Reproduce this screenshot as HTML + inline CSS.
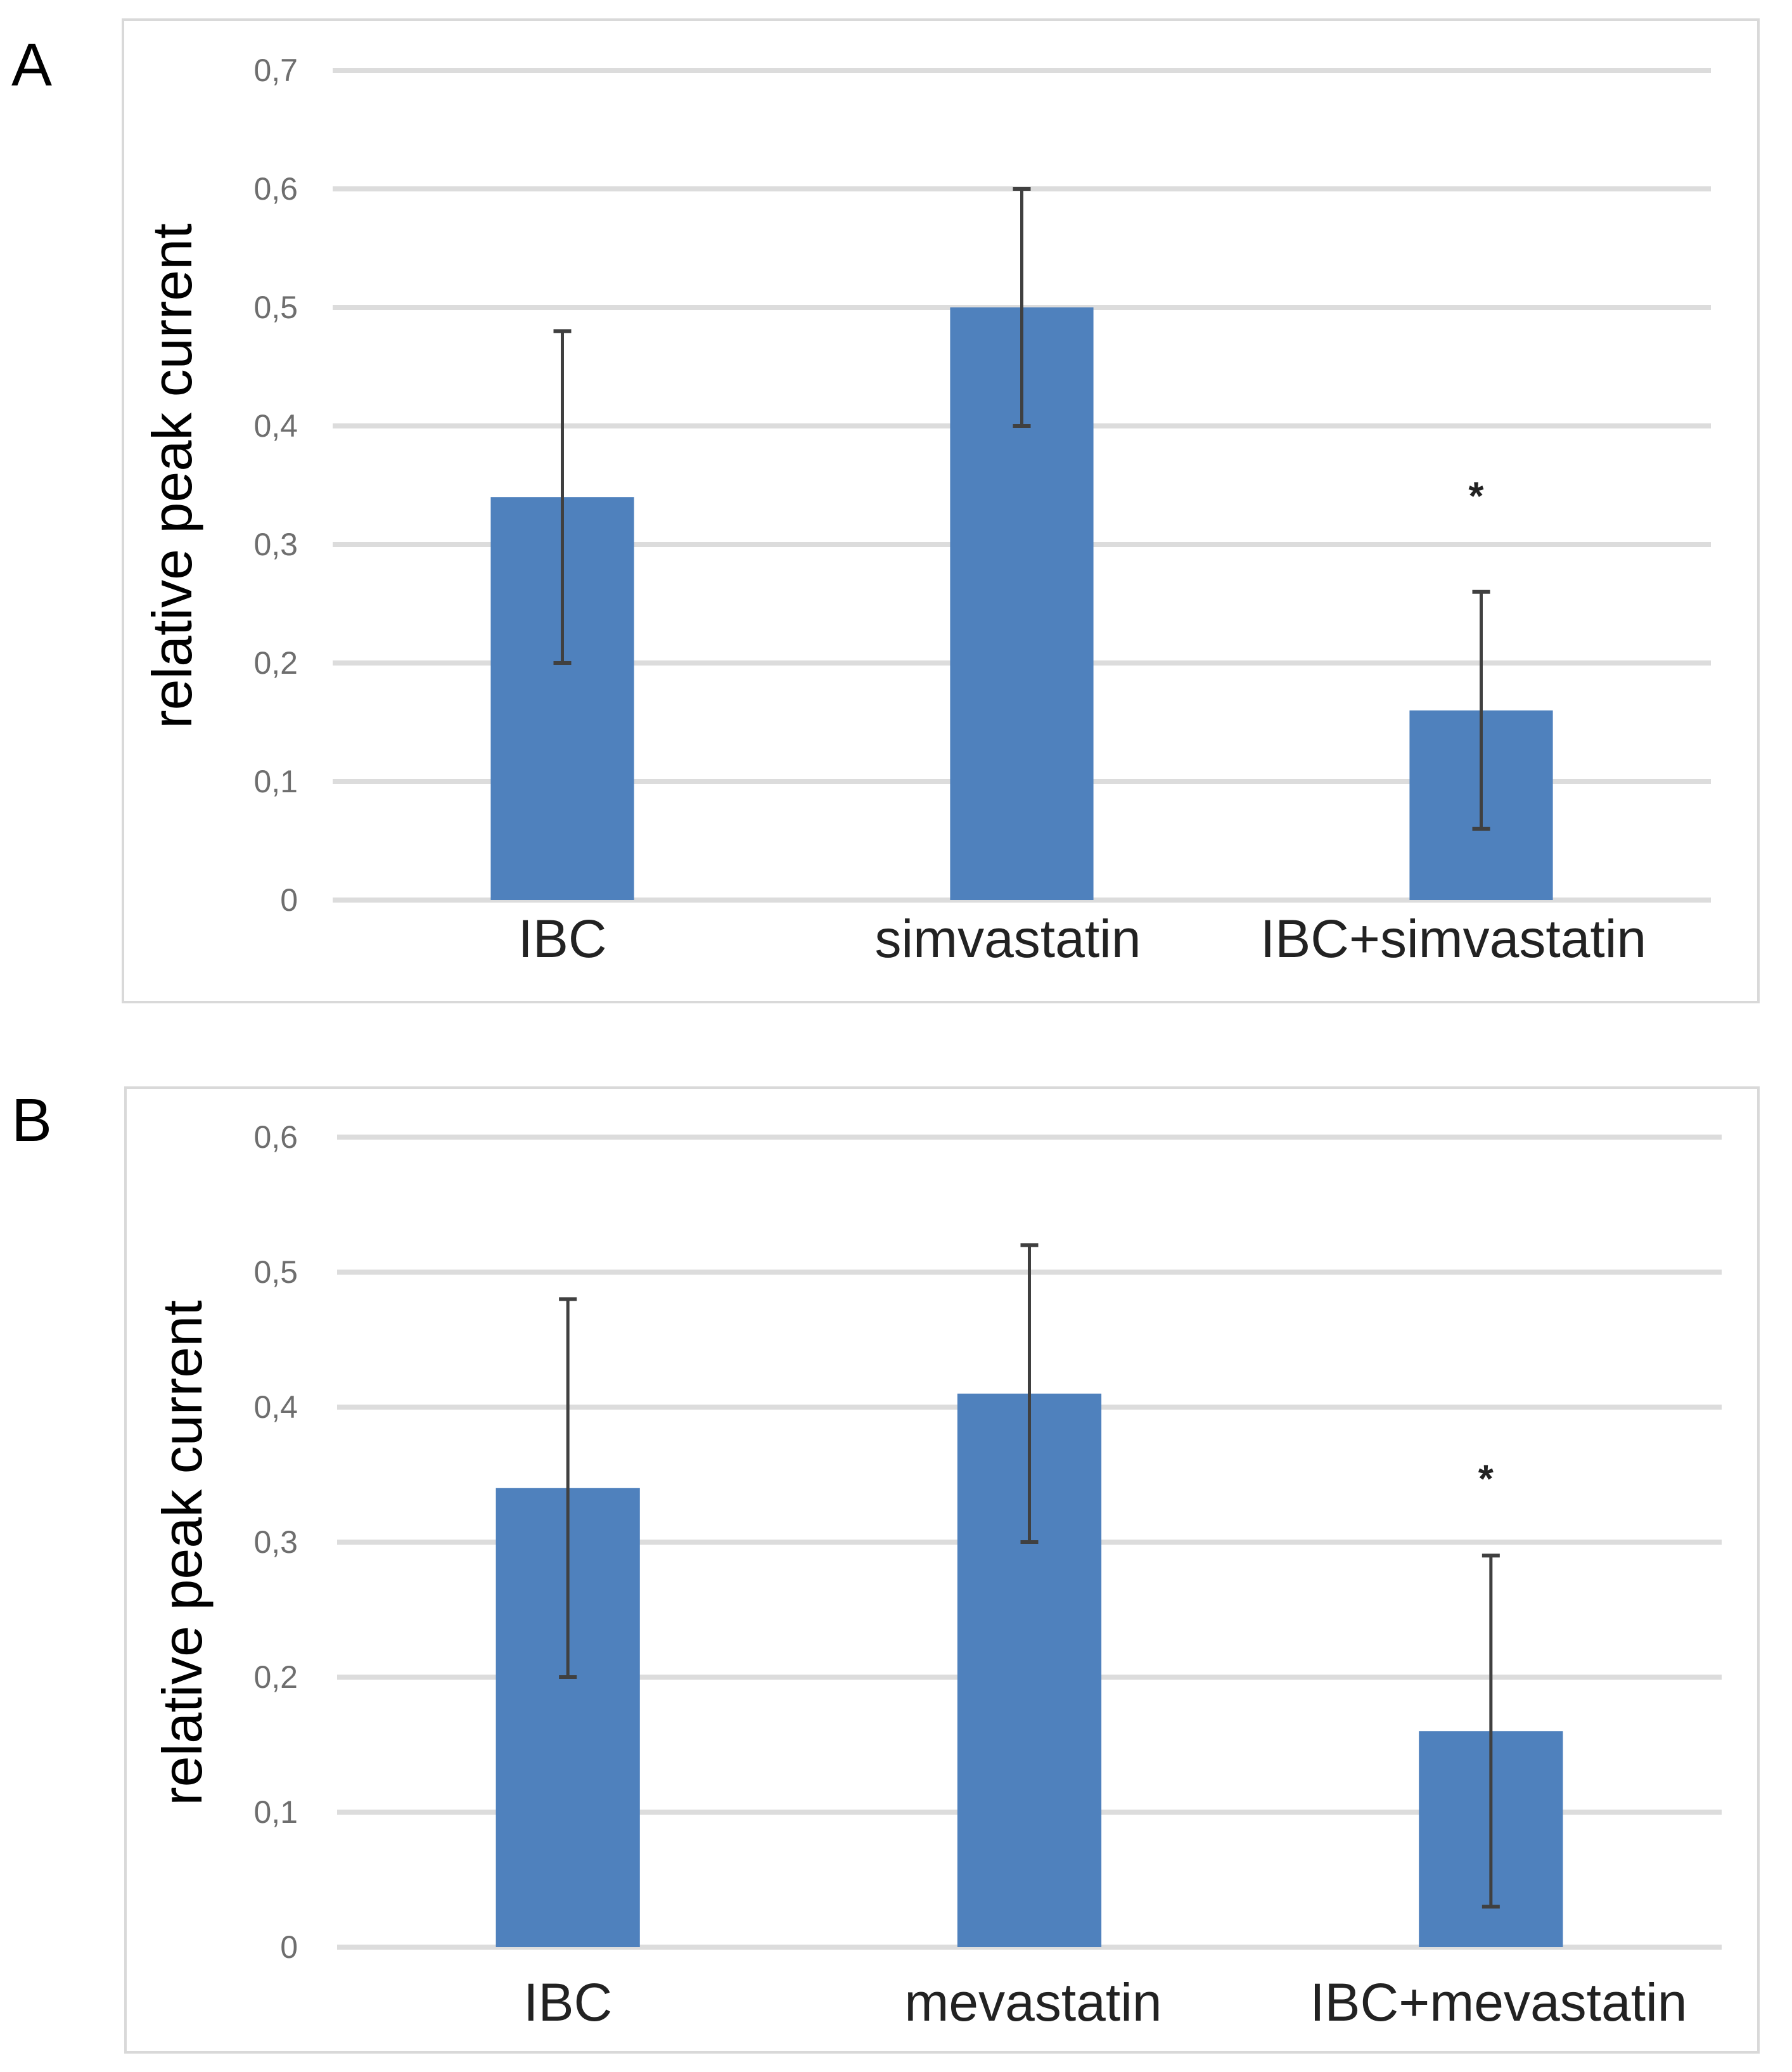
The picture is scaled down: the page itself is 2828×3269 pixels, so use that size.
<!DOCTYPE html>
<html><head><meta charset="utf-8"><style>
html,body{margin:0;padding:0;background:#fff;}
svg{display:block;font-family:"Liberation Sans",sans-serif;}
</style></head><body>
<svg id="fig" width="2828" height="3269" viewBox="0 0 2828 3269" xmlns="http://www.w3.org/2000/svg"></svg>
<script>
// Panel A data
const catsA = ["IBC", "simvastatin", "IBC+simvastatin"];
const valsA = [0.34, 0.50, 0.16];
const errA = [0.14, 0.10, 0.10];
const ticksA = ["0", "0,1", "0,2", "0,3", "0,4", "0,5", "0,6", "0,7"];
const sigA = [false, false, true];
// Panel B data
const catsB = ["IBC", "mevastatin", "IBC+mevastatin"];
const valsB = [0.34, 0.41, 0.16];
const errB = [0.14, 0.11, 0.13];
const ticksB = ["0", "0,1", "0,2", "0,3", "0,4", "0,5", "0,6"];
const sigB = [false, false, true];

const NS = "http://www.w3.org/2000/svg";
const svg = document.getElementById("fig");
function mk(tag, attrs, parent) {
  const e = document.createElementNS(NS, tag);
  for (const k in attrs) e.setAttribute(k, attrs[k]);
  (parent || svg).appendChild(e);
  return e;
}

function drawPanel(p, cats, vals, errs, ticks, sig) {
  const g = mk("g", {});
  
  
  const frame = mk("rect", {x: p.fx, y: p.fy, width: p.fw, height: p.fh, fill: "#fff", stroke: "#d9d9d9", "stroke-width": 4}, g);
  
  
  const letter = mk("text", {x: p.lx, y: p.ly, "font-size": 96, fill: "#000"}, g);
  letter.textContent = p.letter;
  
  
  const yScale = v => p.y0 - (v * 10) * p.step;
  const band = (p.x1 - p.x0) / cats.length;
  const xCenter = i => p.x0 + band * (i + 0.5);
  ticks.forEach((t, i) => {
    const y = yScale(i / 10);
    const gl = mk("line", {x1: p.x0, x2: p.x1, y1: y, y2: y, stroke: "#dcdcdc", "stroke-width": 8}, g);
    
    
    const tl = mk("text", {x: p.tx, y: y + 17, "font-size": 50, fill: "#6e6e6e", "text-anchor": "end"}, g);
    tl.textContent = t;
    
    
  });
  cats.forEach((c, i) => {
    const cx = xCenter(i);
    const bw = band * 0.312;
    const b = mk("rect", {x: cx - bw / 2, y: yScale(vals[i]), width: bw, height: p.y0 - yScale(vals[i]), fill: "#4f81bd"}, g);
    
    
    const yt = yScale(vals[i] + errs[i]), yb = yScale(vals[i] - errs[i]);
    const el = mk("line", {x1: cx, x2: cx, y1: yt, y2: yb, stroke: "#404040", "stroke-width": 5}, g);
    
    
    [yt, yb].forEach(yy => {
      const cap = mk("line", {x1: cx - 14, x2: cx + 14, y1: yy, y2: yy, stroke: "#404040", "stroke-width": 6}, g);
      
      
    });
    if (sig[i]) {
      const s = mk("text", {x: cx - 8, y: yt - p.starOff, "font-size": 62, "font-weight": "bold", fill: "#222", "text-anchor": "middle"}, g);
      s.textContent = "*";
      
      
    }
    const lx = cx + p.labelDx * i;
    const cl = mk("text", {x: lx, y: p.cy, "font-size": 84, fill: "#222", "text-anchor": "middle"}, g);
    cl.textContent = c;
    
    
  });
  const yt = mk("text", {x: 0, y: 0, "font-size": 88, fill: "#000", "text-anchor": "middle", transform: "translate(" + p.ytx + " " + p.yty + ") rotate(-90)"}, g);
  yt.textContent = "relative peak current";
  
  
}

drawPanel({letter: "A", fx: 194, fy: 31, fw: 2581, fh: 1550, lx: 18, ly: 135,
  x0: 525, x1: 2700, y0: 1420, step: 187, tx: 470, cy: 1510, ytx: 302, yty: 751, starOff: 130, labelDx: -22},
  catsA, valsA, errA, ticksA, sigA);
drawPanel({letter: "B", fx: 198, fy: 1716, fw: 2577, fh: 1522, lx: 18, ly: 1800,
  x0: 532, x1: 2717, y0: 3072, step: 213, tx: 470, cy: 3188, ytx: 318, yty: 2450, starOff: 100, labelDx: 6},
  catsB, valsB, errB, ticksB, sigB);
</script>
</body></html>
